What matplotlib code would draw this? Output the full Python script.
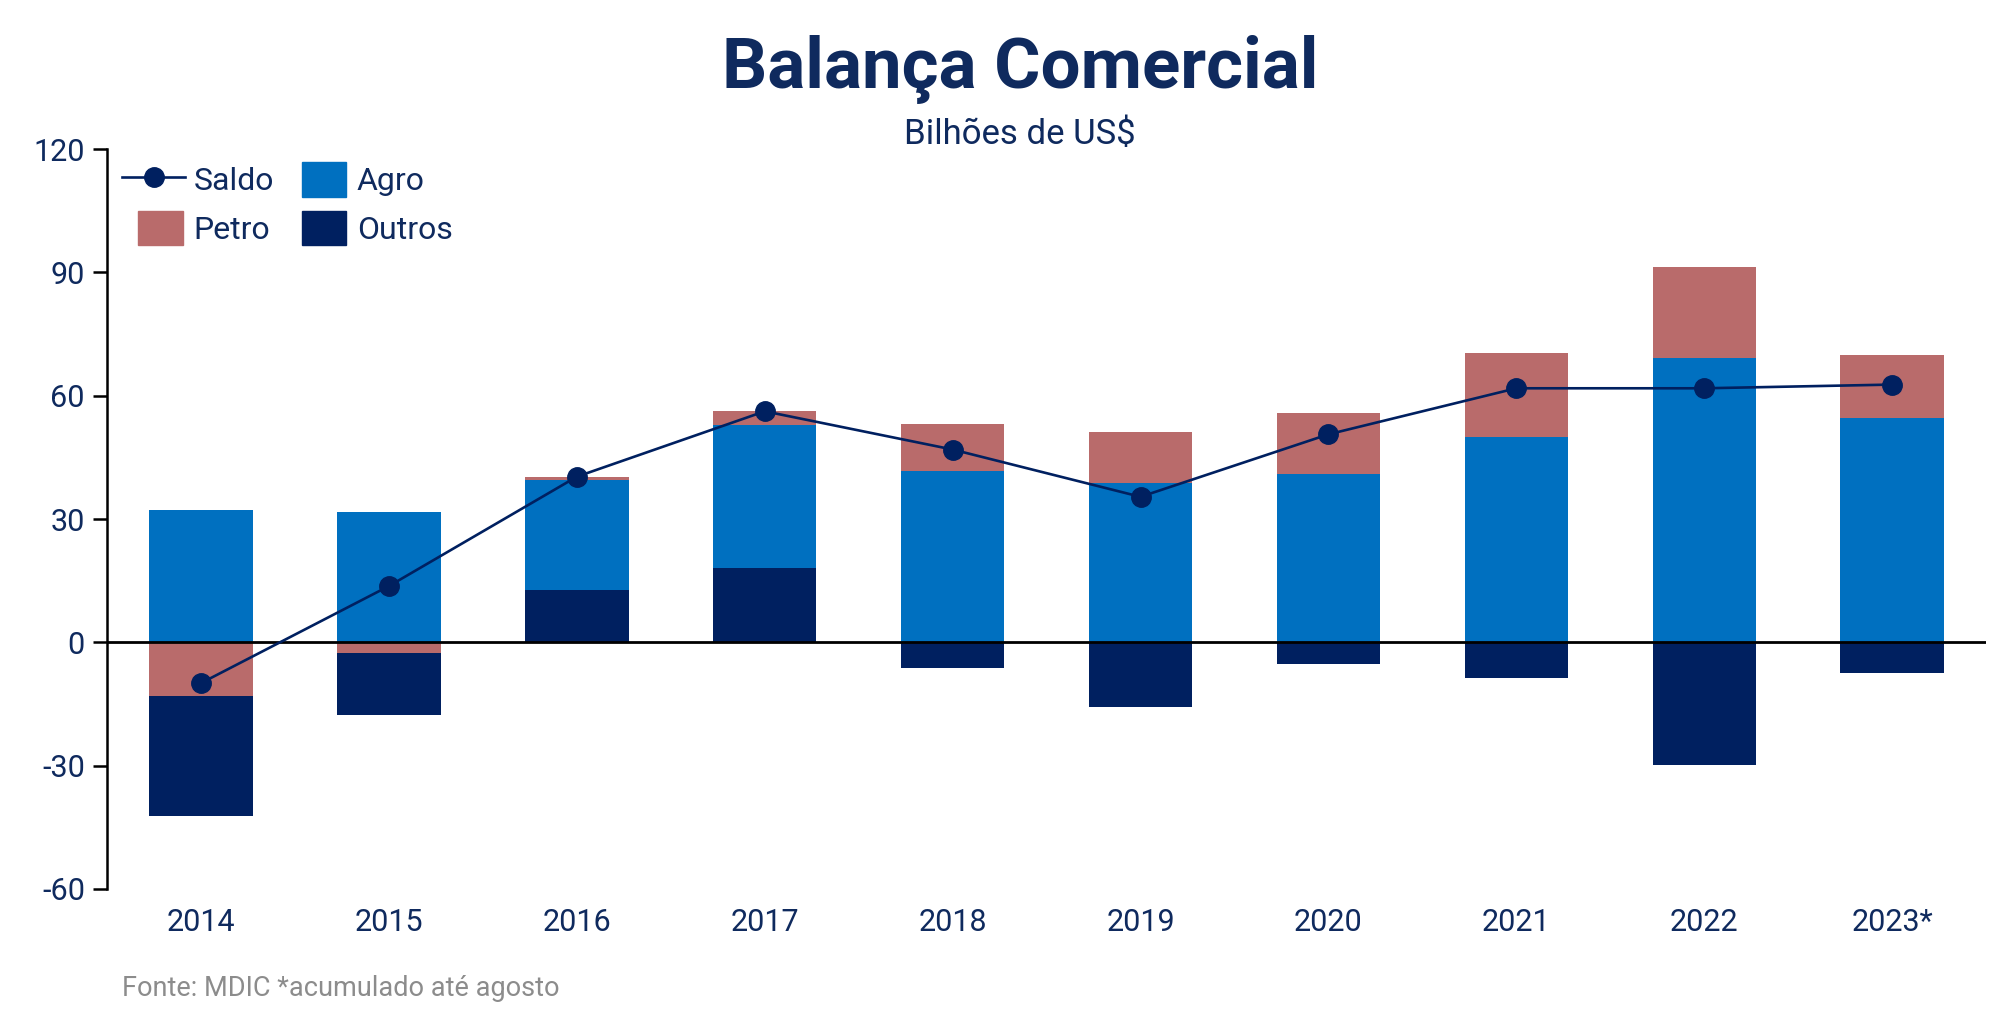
import numpy as np
import matplotlib
matplotlib.use("Agg")
import matplotlib.pyplot as plt
from matplotlib.patches import Patch, Rectangle
from matplotlib.lines import Line2D
from matplotlib.legend_handler import HandlerPatch

ANOS = ["2014", "2015", "2016", "2017", "2018", "2019", "2020", "2021", "2022", "2023*"]
AGRO = [32.3, 31.7, 26.7, 34.8, 41.6, 38.8, 41.0, 50.0, 69.2, 54.6]
PETRO = [-13.0, -2.5, 0.9, 3.4, 11.5, 12.4, 14.9, 20.5, 22.0, 15.2]
OUTROS = [-29.2, -15.2, 12.7, 18.0, -6.2, -15.8, -5.3, -8.7, -29.8, -7.4]
SALDO = [-9.9, 13.7, 40.3, 56.2, 46.9, 35.4, 50.6, 61.8, 61.8, 62.7]

AZUL_ESCURO = "#002060"
AZUL = "#0070c0"
ROSA = "#b96b6b"
TXT = "#0f2a5e"

plt.rcParams["font.family"] = ["Roboto", "DejaVu Sans"]
plt.rcParams["axes.unicode_minus"] = False


def quadrado(legend, orig_handle, xdescent, ydescent, width, height, fontsize):
    # caixa menor, encostada à direita do espaço do handle
    pw, ph = 32, 25
    x0 = -xdescent + width - pw - 2
    y0 = -ydescent + (height - ph) / 2
    return Rectangle((x0, y0), pw, ph)


def main():
    fig = plt.figure(figsize=(20, 10.25), dpi=100)
    ax = fig.add_axes([0.0536, 0.1327, 0.9394, 0.7219])
    x = np.arange(len(ANOS))

    # positivos: Outros na base, depois Agro, depois Petro
    series = [("Outros", OUTROS, AZUL_ESCURO), ("Agro", AGRO, AZUL), ("Petro", PETRO, ROSA)]
    pos = np.zeros(len(ANOS))
    neg = np.zeros(len(ANOS))
    for nome, vals, cor in series:
        v = np.array(vals)
        vp = np.where(v > 0, v, 0)
        ax.bar(x, vp, 0.55, bottom=pos, color=cor, zorder=2)
        pos = pos + vp
    # negativos: Petro colado no zero, depois Outros
    for nome, vals, cor in [series[2], series[1], series[0]]:
        v = np.array(vals)
        vn = np.where(v < 0, v, 0)
        ax.bar(x, vn, 0.55, bottom=neg, color=cor, zorder=2)
        neg = neg + vn

    ax.plot(x, SALDO, color=AZUL_ESCURO, lw=1.9, marker="o", ms=14, zorder=4)
    ax.axhline(0, color="black", lw=2, zorder=3)

    ax.set_xlim(-0.5, 9.5)
    ax.set_ylim(-60, 120)
    ax.set_yticks(np.arange(-60, 121, 30))
    ax.set_xticks(x)
    ax.set_xticklabels(ANOS)
    for s in ["top", "right", "bottom"]:
        ax.spines[s].set_visible(False)
    ax.spines["left"].set_linewidth(1.8)
    ax.tick_params(axis="y", length=10, width=1.8, labelsize=22, labelcolor=TXT, pad=6)
    ax.tick_params(axis="x", length=0, labelsize=22, labelcolor=TXT, pad=14)

    handles = [
        Line2D([0], [0], color=AZUL_ESCURO, lw=1.9, marker="o", ms=14),
        Patch(color=ROSA),
        Patch(color=AZUL),
        Patch(color=AZUL_ESCURO),
    ]
    labels = ["Saldo", "Petro", "Agro", "Outros"]
    leg = ax.legend(handles, labels, ncol=2, loc="upper left", frameon=False,
                    fontsize=23, handlelength=2.0, handleheight=1.15,
                    columnspacing=0.35, labelspacing=0.5, handletextpad=0.25,
                    borderaxespad=0.0, borderpad=0.45,
                    handler_map={Patch: HandlerPatch(patch_func=quadrado)})
    for t in leg.get_texts():
        t.set_color(TXT)

    fig.text(0.51, 0.932, "Balança Comercial", ha="center", va="center",
             fontsize=51, fontweight="bold", color=TXT)
    fig.text(0.51, 0.869, "Bilhões de US$", ha="center", va="center",
             fontsize=25, color=TXT)
    fig.text(0.061, 0.036, "Fonte: MDIC *acumulado até agosto", ha="left", va="center",
             fontsize=19.5, color="#8c8c8c")

    fig.savefig("out.png", dpi=100)
    plt.close(fig)


if __name__ == "__main__":
    main()
